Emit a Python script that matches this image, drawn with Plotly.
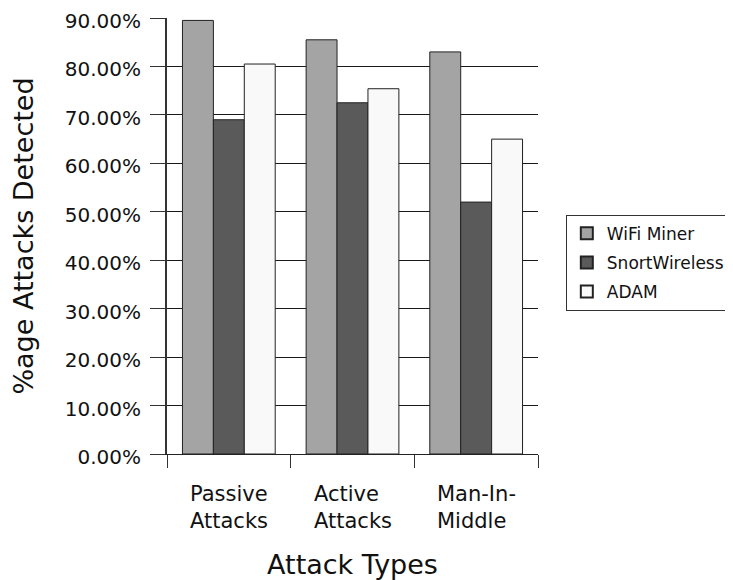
import plotly.graph_objects as go

categories = ["Passive Attacks", "Active Attacks", "Man-In-Middle"]
category_labels = ["Passive<br>Attacks", "Active<br>Attacks", "Man-In-<br>Middle"]
series_names = ["WiFi Miner", "SnortWireless", "ADAM"]
wifi_miner = [89.5, 85.5, 83.0]
snort_wireless = [69.0, 72.5, 52.0]
adam = [80.5, 75.4, 65.0]
y_ticks = [0, 10, 20, 30, 40, 50, 60, 70, 80, 90]

colors = ["#a4a4a4", "#5a5a5a", "#f9f9f9"]
FONT = "DejaVu Sans"

fig = go.Figure()
for name, vals, col in zip(series_names, [wifi_miner, snort_wireless, adam], colors):
    fig.add_trace(go.Bar(
        x=categories, y=vals, name=name, legendgroup=name,
        marker=dict(color=col, line=dict(color="#222222", width=1)),
    ))

for cat, lab in zip(categories, category_labels):
    fig.add_annotation(
        x=cat, xref="x", y=-0.06, yref="paper", yanchor="top",
        text=lab, align="left", showarrow=False,
        font=dict(family=FONT, size=21, color="#111111"),
    )

# page body has an 8px default margin; figure sized to fill the rest of the window
fig.update_layout(
    width=725, height=572,
    paper_bgcolor="white", plot_bgcolor="white",
    margin=dict(l=159, r=195, t=10, b=126, autoexpand=False),
    barmode="group", bargap=0.25, bargroupgap=0,
    font=dict(family=FONT, color="#111111"),
    showlegend=True,
    legend=dict(
        x=1.075, xanchor="left", y=0.4385, yanchor="middle",
        bordercolor="#333333", borderwidth=1, bgcolor="white",
        font=dict(family=FONT, size=17, color="#111111"),
        itemsizing="constant", traceorder="grouped", tracegroupgap=4,
    ),
    xaxis=dict(
        showticklabels=False, ticks="outside", tickson="boundaries",
        ticklen=13, tickcolor="#333333", tickwidth=1,
        showline=True, linecolor="#222222", linewidth=1,
        showgrid=False, automargin=False,
        title=dict(text="Attack Types", font=dict(family=FONT, size=27, color="#111111"), standoff=101),
    ),
    yaxis=dict(
        range=[0, 90], tickvals=y_ticks,
        ticktext=[f"{v:.2f}%" for v in y_ticks],
        ticks="outside", ticklen=15, tickcolor="#333333", tickwidth=1,
        ticklabelstandoff=5, ticklabelshift=3, ticklabeloverflow="allow",
        tickfont=dict(family=FONT, size=20, color="#111111"),
        showgrid=True, gridcolor="#1a1a1a", gridwidth=1,
        showline=True, linecolor="#333333", linewidth=2,
        zeroline=False, automargin=False,
        title=dict(text="%age Attacks Detected", font=dict(family=FONT, size=27, color="#111111"), standoff=45),
    ),
)

fig.write_html("out.html")
